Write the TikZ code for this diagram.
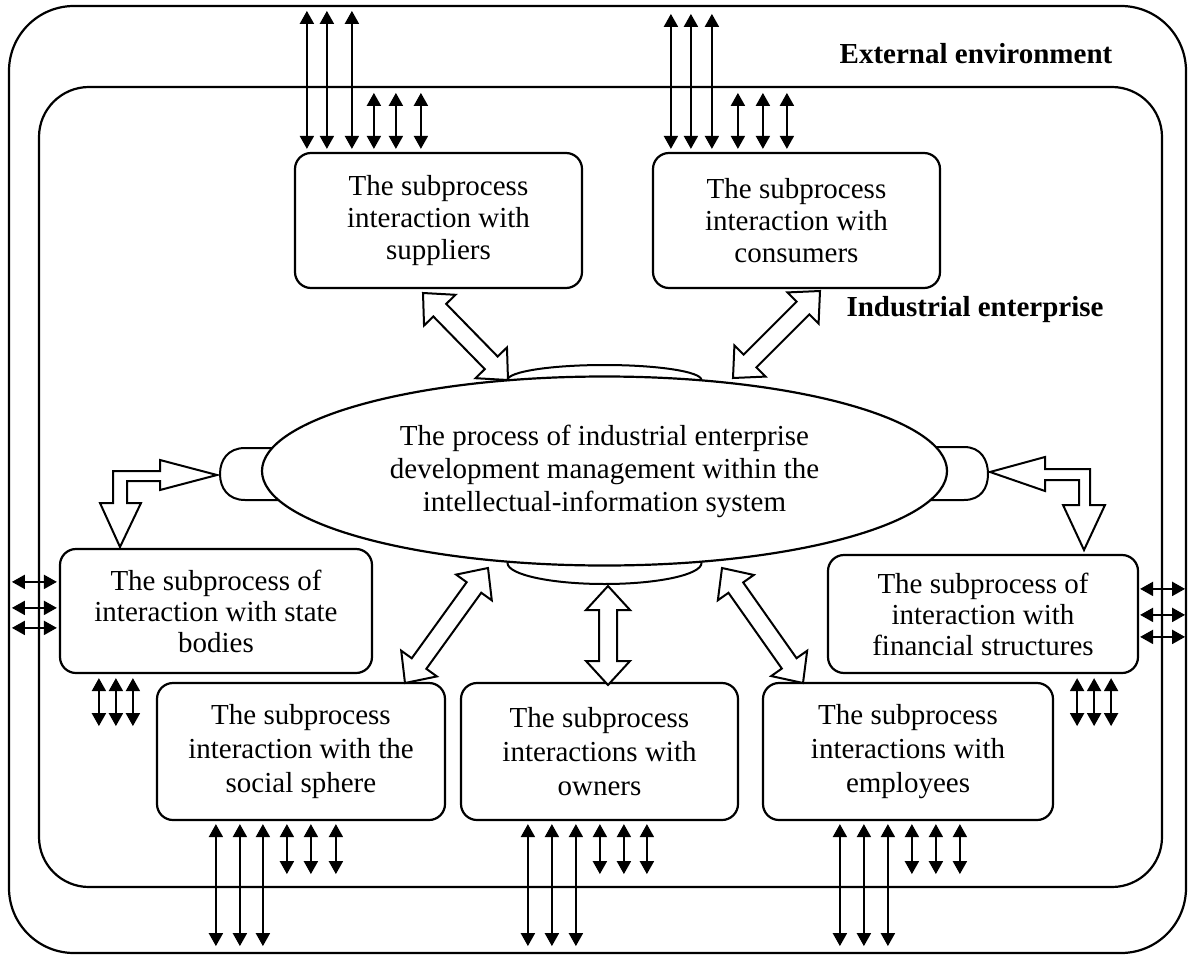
\documentclass[tikz,border=0pt]{standalone}
\usepackage{fontspec}
\setmainfont{Liberation Serif}
\usetikzlibrary{arrows.meta,calc,shapes.geometric}
\newcommand\hollowdbl[2]{\draw[harrow] (#1)
 -- ($(#1)!24pt!(#2)!22pt!90:(#2)$)
 -- ($(#1)!24pt!(#2)!9pt!90:(#2)$)
 -- ($(#2)!24pt!(#1)!9pt!-90:(#1)$)
 -- ($(#2)!24pt!(#1)!22pt!-90:(#1)$)
 -- (#2)
 -- ($(#2)!24pt!(#1)!22pt!90:(#1)$)
 -- ($(#2)!24pt!(#1)!9pt!90:(#1)$)
 -- ($(#1)!24pt!(#2)!9pt!-90:(#2)$)
 -- ($(#1)!24pt!(#2)!22pt!-90:(#2)$)
 -- cycle;}
\begin{document}
\begin{tikzpicture}[x=1pt,y=-1pt,
  box/.style={draw, line width=2.2pt, rounded corners=16pt, align=center, inner sep=0pt, fill=white,
              font=\fontsize{29}{32}\selectfont},
  bi/.style={line width=2pt, {Triangle[length=13pt,width=14pt]}-{Triangle[length=13pt,width=14pt]}},
  harrow/.style={draw, line width=2pt, fill=white, line join=miter},
  frame/.style={draw, line width=2.2pt},
  lbl/.style={font=\fontsize{29}{32}\selectfont\bfseries}]
\useasboundingbox (0,0) rectangle (1191,958);

% frames
\draw[frame, rounded corners=65pt] (9,6) rectangle (1186,953);
\draw[frame, rounded corners=50pt] (39,87) rectangle (1162,887);

\node[lbl] (ext) at (976,54) {External environment};
\node[lbl] (ind) at (975,310) {Industrial enterprise};

% boxes
\node[box, minimum width=287pt, minimum height=135pt] (sup) at (438.5,220.5)
  {The subprocess\\ interaction with\\ suppliers};
\node[box, minimum width=287pt, minimum height=135pt] (con) at (796.5,220.5)
  {The subprocess\\ interaction with\\ consumers};
\node[box, minimum width=312pt, minimum height=124pt, font=\fontsize{29}{31}\selectfont] (st) at (216,611)
  {The subprocess of\\ interaction with state\\ bodies};
\node[box, minimum width=310pt, minimum height=118pt, font=\fontsize{29}{31}\selectfont] (fin) at (983,614)
  {The subprocess of\\ interaction with\\ financial structures};
\node[box, minimum width=288pt, minimum height=137pt, font=\fontsize{29}{34}\selectfont] (soc) at (301,751.5)
  {The subprocess\\ interaction with the\\ social sphere};
\node[box, minimum width=277pt, minimum height=137pt, font=\fontsize{29}{34}\selectfont] (own) at (599.5,751.5)
  {The subprocess\\ interactions with\\ owners};
\node[box, minimum width=290pt, minimum height=137pt, font=\fontsize{29}{34}\selectfont] (emp) at (908,751.5)
  {The subprocess\\ interactions with\\ employees};

% tabs of the ellipse
\draw[line width=2pt, fill=white] (285,448) -- (245,448) .. controls (228,448) and (220,460) .. (220,474)
  .. controls (220,488) and (228,500) .. (245,500) -- (285,500);
\draw[line width=2pt, fill=white] (924,447) -- (964,447) .. controls (981,447) and (988,460) .. (988,474)
  .. controls (988,488) and (981,500) .. (964,500) -- (924,500);
\draw[line width=2pt, fill=white] (604.5,380) ellipse [x radius=97pt, y radius=15pt];
\draw[line width=2pt, fill=white] (604.5,563) ellipse [x radius=97pt, y radius=21pt];

% central ellipse
\node[ellipse, draw, line width=2.2pt, fill=white, minimum width=685pt, minimum height=189pt, inner sep=0pt,
      align=center, font=\fontsize{29}{33}\selectfont] (proc) at (604.5,471)
  {The process of industrial enterprise\\ development management within the\\ intellectual-information system};

% hollow double arrows
\coordinate (a1) at (423,293); \coordinate (b1) at (508,380);
\coordinate (a2) at (820,291); \coordinate (b2) at (733,378);
\coordinate (a3) at (405,683); \coordinate (b3) at (488,568);
\coordinate (a4) at (608,586); \coordinate (b4) at (608,685);
\coordinate (a5) at (722,568); \coordinate (b5) at (803,683);
\hollowdbl{a1}{b1}
\hollowdbl{a2}{b2}
\hollowdbl{a3}{b3}
\hollowdbl{a4}{b4}
\hollowdbl{a5}{b5}

% bent hollow arrows
\draw[harrow] (217,475) -- (160,460) -- (160,471) -- (113,471) -- (113,503) -- (100,503) -- (120,547)
  -- (141,503) -- (127,503) -- (127,481) -- (160,481) -- (160,490) -- cycle;
\draw[harrow] (990,472) -- (1045,457) -- (1045,469) -- (1090,469) -- (1090,505) -- (1105,505) -- (1084,550)
  -- (1063,505) -- (1079,505) -- (1079,480) -- (1045,480) -- (1045,491) -- cycle;

% thin double arrows
\foreach \dx in {13,33,58} \draw[bi] ([xshift=\dx pt,yshift=3pt]sup.north west) -- ++(0,-138);
\foreach \dx in {80,102,127} \draw[bi] ([xshift=\dx pt,yshift=3pt]sup.north west) -- ++(0,-56);
\foreach \dx in {19,39,60} \draw[bi] ([xshift=\dx pt,yshift=3pt]con.north west) -- ++(0,-135);
\foreach \dx in {86,111,135} \draw[bi] ([xshift=\dx pt,yshift=3pt]con.north west) -- ++(0,-56);

\foreach \dy in {34,60,80} \draw[bi] ([xshift=-2pt,yshift=-\dy pt]st.north west) -- ++(-45,0);
\foreach \dx in {40,57,74} \draw[bi] ([xshift=\dx pt,yshift=-4pt]st.south west) -- ++(0,48);
\foreach \dy in {35,61,83} \draw[bi] ([xshift=1pt,yshift=-\dy pt]fin.north east) -- ++(45,0);
\foreach \dx in {62,45,28} \draw[bi] ([xshift=-\dx pt,yshift=-4pt]fin.south east) -- ++(0,48);

\foreach \dx in {60,84,107} \draw[bi] ([xshift=\dx pt,yshift=-3pt]soc.south west) -- ++(0,122);
\foreach \dx in {131,155,180} \draw[bi] ([xshift=\dx pt,yshift=-3pt]soc.south west) -- ++(0,50);
\foreach \dx in {68,92,116} \draw[bi] ([xshift=\dx pt,yshift=-3pt]own.south west) -- ++(0,122);
\foreach \dx in {140,164,187} \draw[bi] ([xshift=\dx pt,yshift=-3pt]own.south west) -- ++(0,50);
\foreach \dx in {78,102,126} \draw[bi] ([xshift=\dx pt,yshift=-3pt]emp.south west) -- ++(0,122);
\foreach \dx in {150,174,198} \draw[bi] ([xshift=\dx pt,yshift=-3pt]emp.south west) -- ++(0,50);
\end{tikzpicture}
\end{document}
